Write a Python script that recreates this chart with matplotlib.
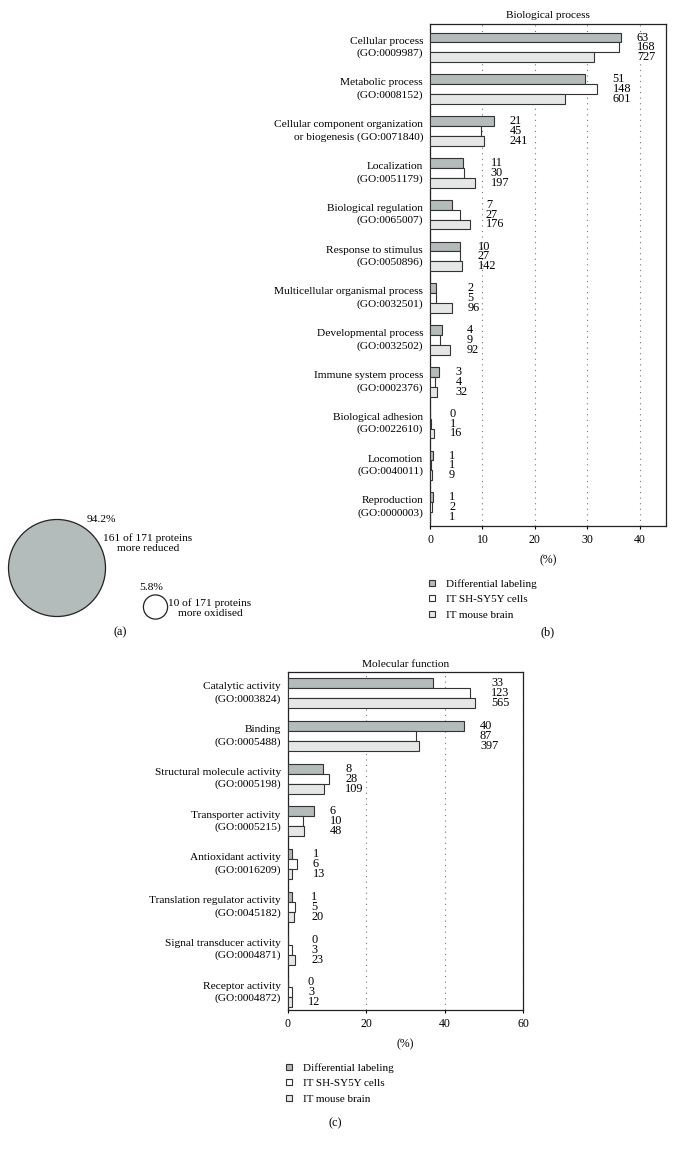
import matplotlib
matplotlib.use("Agg")
import numpy as np
import matplotlib.pyplot as plt
from matplotlib.lines import Line2D

plt.rcParams["font.family"] = ["Liberation Serif", "DejaVu Serif"]
plt.rcParams["font.size"] = 8.2

W, H = 675, 1150

# (a) redox state of the 171 labelled proteins
pie_counts = [161, 10]
pie_pct = ["94.2%", "5.8%"]
pie_text = ["161 of 171 proteins\nmore reduced", "10 of 171 proteins\nmore oxidised"]

# (b) GO biological process
bp_terms = [
    "Cellular process\n(GO:0009987)",
    "Metabolic process\n(GO:0008152)",
    "Cellular component organization\nor biogenesis (GO:0071840)",
    "Localization\n(GO:0051179)",
    "Biological regulation\n(GO:0065007)",
    "Response to stimulus\n(GO:0050896)",
    "Multicellular organismal process\n(GO:0032501)",
    "Developmental process\n(GO:0032502)",
    "Immune system process\n(GO:0002376)",
    "Biological adhesion\n(GO:0022610)",
    "Locomotion\n(GO:0040011)",
    "Reproduction\n(GO:0000003)",
]
bp_n_diff = [63, 51, 21, 11, 7, 10, 2, 4, 3, 0, 1, 1]
bp_n_sh = [168, 148, 45, 30, 27, 27, 5, 9, 4, 1, 1, 2]
bp_n_brain = [727, 601, 241, 197, 176, 142, 96, 92, 32, 16, 9, 1]
bp_pct_diff = [36.4, 29.6, 12.2, 6.3, 4.1, 5.8, 1.2, 2.3, 1.8, 0.0, 0.6, 0.6]
bp_pct_sh = [36.1, 31.8, 9.7, 6.4, 5.8, 5.8, 1.1, 1.9, 0.9, 0.2, 0.2, 0.4]
bp_pct_brain = [31.2, 25.8, 10.3, 8.5, 7.6, 6.1, 4.1, 3.9, 1.4, 0.7, 0.4, 0.05]

# (c) GO molecular function
mf_terms = [
    "Catalytic activity\n(GO:0003824)",
    "Binding\n(GO:0005488)",
    "Structural molecule activity\n(GO:0005198)",
    "Transporter activity\n(GO:0005215)",
    "Antioxidant activity\n(GO:0016209)",
    "Translation regulator activity\n(GO:0045182)",
    "Signal transducer activity\n(GO:0004871)",
    "Receptor activity\n(GO:0004872)",
]
mf_n_diff = [33, 40, 8, 6, 1, 1, 0, 0]
mf_n_sh = [123, 87, 28, 10, 6, 5, 3, 3]
mf_n_brain = [565, 397, 109, 48, 13, 20, 23, 12]
mf_pct_diff = [37.1, 44.9, 9.0, 6.7, 1.1, 1.1, 0.0, 0.0]
mf_pct_sh = [46.4, 32.8, 10.6, 3.8, 2.3, 1.9, 1.1, 1.1]
mf_pct_brain = [47.7, 33.5, 9.2, 4.1, 1.1, 1.7, 1.9, 1.0]

series_names = ["Differential labeling", "IT SH-SY5Y cells", "IT mouse brain"]
colors = ["#b3bcba", "#ffffff", "#e4e7e6"]
edge = "#333333"


def rect(x0, y0, x1, y1):
    # pixel box (top-left origin) -> figure fraction rect
    return [x0 / W, 1 - y1 / H, (x1 - x0) / W, (y1 - y0) / H]


def fpos(x, y):
    return x / W, 1 - y / H


def go_panel(ax, terms, pcts, counts, xmax, ticks, ylim, title):
    n = len(terms)
    y = np.arange(n)
    h = 0.235
    for k, (p, c) in enumerate(zip(pcts, colors)):
        ax.barh(y + (k - 1) * h, p, height=h, color=c, edgecolor=edge,
                linewidth=0.8, zorder=3)
    for i in range(n):
        top = max(p[i] for p in pcts)
        for k in range(3):
            ax.annotate(str(counts[k][i]), xy=(top, y[i] + (k - 1) * h),
                        xytext=(11.5, 0), textcoords="offset points",
                        ha="left", va="center", fontsize=8.8)
    ax.set_xlim(0, xmax)
    ax.set_ylim(*ylim)
    ax.set_xticks(ticks)
    ax.set_yticks(y)
    ax.set_yticklabels(terms)
    for lab in ax.get_yticklabels():
        lab.set_linespacing(1.4)
        lab.set_va("center")
    ax.tick_params(axis="y", length=0, pad=5)
    ax.tick_params(axis="x", length=2.5, width=0.8, pad=3, labelsize=8.5)
    ax.xaxis.grid(True, linestyle=(0, (1, 4)), color="#777777", linewidth=0.8)
    ax.set_axisbelow(True)
    for s in ax.spines.values():
        s.set_linewidth(0.9)
        s.set_color("#222222")
    ax.set_title(title, fontsize=8.2, pad=4)
    ax.set_xlabel("(%)", fontsize=8.5, labelpad=6)


def add_legend(ax, x, y):
    handles = [Line2D([], [], linestyle="none", marker="s", markersize=3.8,
                      markerfacecolor=c, markeredgecolor=edge, markeredgewidth=0.8)
               for c in colors]
    ax.legend(handles, series_names, loc="upper left", bbox_to_anchor=fpos(x, y),
              bbox_transform=fig.transFigure, frameon=False, fontsize=8,
              handlelength=0.7, handletextpad=0.9, labelspacing=0.52,
              borderpad=0, borderaxespad=0)


fig = plt.figure(figsize=(W / 100, H / 100), dpi=100)

# (a) circles with area proportional to protein count
ax_a = fig.add_axes(rect(0, 500, 270, 640))
ax_a.set_xlim(0, 270)
ax_a.set_ylim(140, 0)
ax_a.axis("off")
area_scale = 30.3
ax_a.scatter([57, 155.5], [68, 107], s=[c * area_scale for c in pie_counts],
             c=["#b3bcba", "#ffffff"], edgecolors="#222222", linewidths=0.9)
ax_a.text(87, 20, pie_pct[0], fontsize=8.2, va="center", ha="left")
ax_a.text(148, 43, pie_text[0], fontsize=8.2, va="center", ha="center", linespacing=1.15)
ax_a.text(151.5, 87, pie_pct[1], fontsize=8.2, va="center", ha="center")
ax_a.text(210, 108, pie_text[1], fontsize=8.2, va="center", ha="center", linespacing=1.15)

# (b)
ax_b = fig.add_axes(rect(430, 24, 666, 526))
go_panel(ax_b, bp_terms, [bp_pct_diff, bp_pct_sh, bp_pct_brain],
         [bp_n_diff, bp_n_sh, bp_n_brain], 45, [0, 10, 20, 30, 40],
         (11.45, -0.56), "Biological process")
add_legend(ax_b, 428, 579)

# (c)
ax_c = fig.add_axes(rect(287.7, 672.3, 523.3, 1010.3))
go_panel(ax_c, mf_terms, [mf_pct_diff, mf_pct_sh, mf_pct_brain],
         [mf_n_diff, mf_n_sh, mf_n_brain], 60, [0, 20, 40, 60],
         (7.42, -0.49), "Molecular function")
add_legend(ax_c, 285, 1063)

fig.text(*fpos(120, 632), "(a)", fontsize=8.8, ha="center", va="center")
fig.text(*fpos(548, 632), "(b)", fontsize=8.8, ha="center", va="center")
fig.text(*fpos(335, 1123), "(c)", fontsize=8.8, ha="center", va="center")

fig.savefig("out.png", dpi=100, facecolor="white")
